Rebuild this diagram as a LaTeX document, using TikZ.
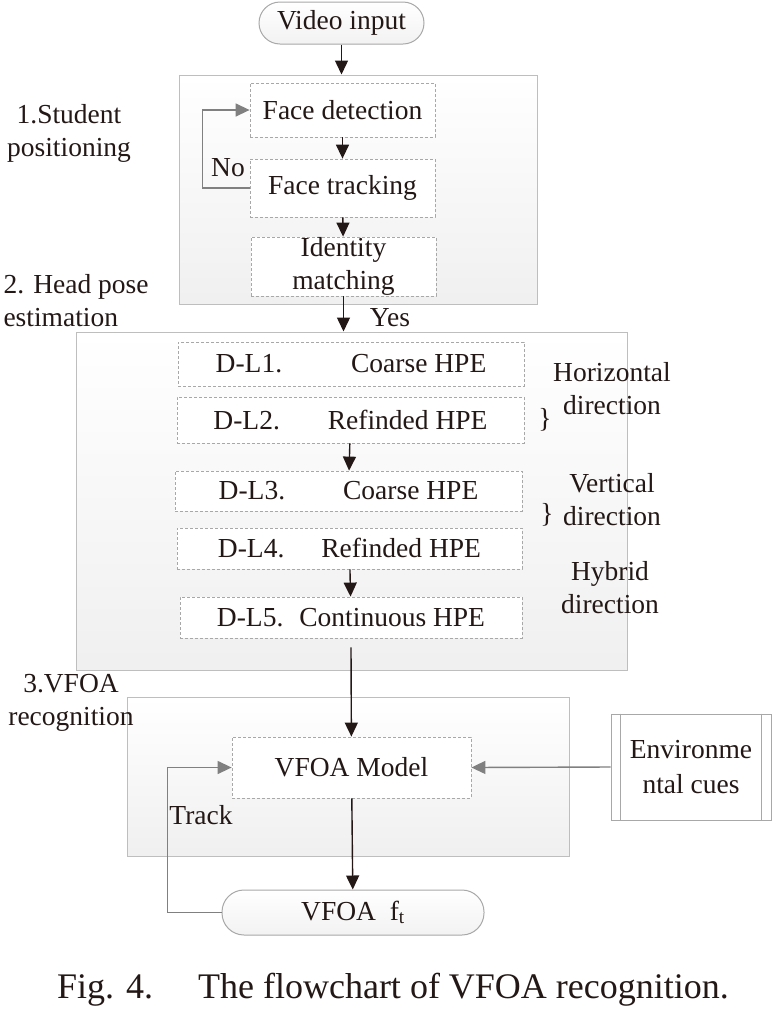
\documentclass[tikz,border=0pt]{standalone}
\usepackage{fontspec}
\setmainfont{Liberation Serif}
\usepackage{tikz}
\usetikzlibrary{arrows.meta, positioning}
\definecolor{ink}{HTML}{231815}
\definecolor{loopgray}{HTML}{808080}
\definecolor{boxline}{HTML}{A8A8A8}
\definecolor{groupline}{HTML}{BEBEBE}

\begin{document}
\begin{tikzpicture}[x=1pt,y=-1pt,>={Triangle[length=14pt,width=13pt]},
		every node/.style={font=\fontsize{27.5}{33}\selectfont,text=ink}]
		\tikzstyle{group}=[draw=groupline,line width=1pt,top color=white,bottom color=gray!12,inner sep=0pt]
		\tikzstyle{dbox}=[draw=boxline,line width=0.8pt,dash pattern=on 3pt off 2pt,fill=white,inner sep=0pt,align=center]
		\tikzstyle{term}=[draw=boxline,line width=1pt,top color=white,bottom color=gray!10,inner sep=0pt]
		\tikzstyle{flow}=[->,draw=ink,line width=1.4pt]
		\tikzstyle{back}=[->,draw=loopgray,line width=1.4pt]
		
		\useasboundingbox (0,0) rectangle (774,1021);
		
		% stage frames
		\node[group,minimum width=358pt,minimum height=229pt] (g1) at (358,189.5) {};
		\node[group,minimum width=551pt,minimum height=338pt] (g2) at (351.5,501) {};
		\node[group,minimum width=442pt,minimum height=159pt] (g3) at (348,776.5) {};
		
		% terminals
		\node[term,rounded corners=21pt,minimum width=165pt,minimum height=42pt] (vin) at (341.5,23) {Video input};
		\node[term,rounded corners=22pt,minimum width=262pt,minimum height=45pt] (vft) at (353,912.5) {VFOA~ f\textsubscript{t}};
		
		% stage 1
		\node[dbox,minimum width=185pt,minimum height=54pt] (fd) at (342.5,110) {Face detection};
		\node[dbox,minimum width=185pt,minimum height=58pt] (ftr) at (342.5,188) {Face tracking};
		\node[dbox,minimum width=185pt,minimum height=59pt] (im) at (343.5,266.5) {Identity\\matching};
		
		% stage 2
		\node[dbox,minimum width=346pt,minimum height=44pt] (dl1) at (351,364) {D-L1.\hspace{69pt}Coarse HPE};
		\node[dbox,minimum width=347pt,minimum height=46pt] (dl2) at (350.5,420) {D-L2.\hspace{48pt}Refinded HPE};
		\node[dbox,minimum width=347pt,minimum height=40pt] (dl3) at (348.5,491) {D-L3.\hspace{58pt}Coarse HPE};
		\node[dbox,minimum width=345pt,minimum height=41pt] (dl4) at (349.5,548.5) {D-L4.\hspace{37pt}Refinded HPE};
		\node[dbox,minimum width=342pt,minimum height=41pt] (dl5) at (351,617.5) {D-L5.\hspace{16pt}Continuous HPE};
		
		% stage 3
		\node[dbox,minimum width=239pt,minimum height=61pt] (vfm) at (351.5,767.5) {VFOA Model};
		\node[draw=boxline,line width=1pt,fill=white,inner sep=0pt,align=center,
			minimum width=160pt,minimum height=106pt,font=\fontsize{27.5}{35}\selectfont] (env) at (691,767) {Environme\\ntal cues};
		\draw[draw=boxline,line width=1pt] ([xshift=10pt]env.north west) -- ([xshift=10pt]env.south west)
			([xshift=-10pt]env.north east) -- ([xshift=-10pt]env.south east);
		
		% side labels
		\node[align=center] (s1) at (69,133) {1.Student\\positioning};
		\node[align=left,anchor=west] (s2) at (0,301) {2. Head pose\\estimation};
		\node[align=center] (s3) at (71,703) {3.VFOA\\recognition};
		\node[align=center] (hor) at (612,389) {Horizontal\\direction};
		\node (br1) at (545,420) {\}};
		\node[align=center] (ver) at (612,499.5) {Vertical\\direction};
		\node (br2) at (547,515) {\}};
		\node[align=center] (hyb) at (610,588) {Hybrid\\direction};
		\node (no) at (228,168) {No};
		\node (yes) at (390,318) {Yes};
		\node (trk) at (201,815) {Track};
		
		\path[every edge/.append style={flow}]
		(vin) edge (vin |- g1.north)
		(fd) edge (ftr)
		(ftr) edge (im)
		(im) edge (im |- g2.north)
		(dl2) edge (dl3)
		(dl4) edge (dl5)
		([yshift=-9pt]dl5.south) edge (vfm)
		(vfm) edge (vft);
		
		\draw[back] (ftr.west) -- ++(-47,0) |- (fd.west);
		\draw[back] (vft.west) -- ++(-54,0) |- (vfm.west);
		\draw[back] (env.west) -- (vfm.east);
		
		\node[font=\fontsize{36}{40}\selectfont] (cap) at (393,990) {Fig. 4.\hspace{1.25em}The flowchart of VFOA recognition.};
		
	\end{tikzpicture}
\end{document}
